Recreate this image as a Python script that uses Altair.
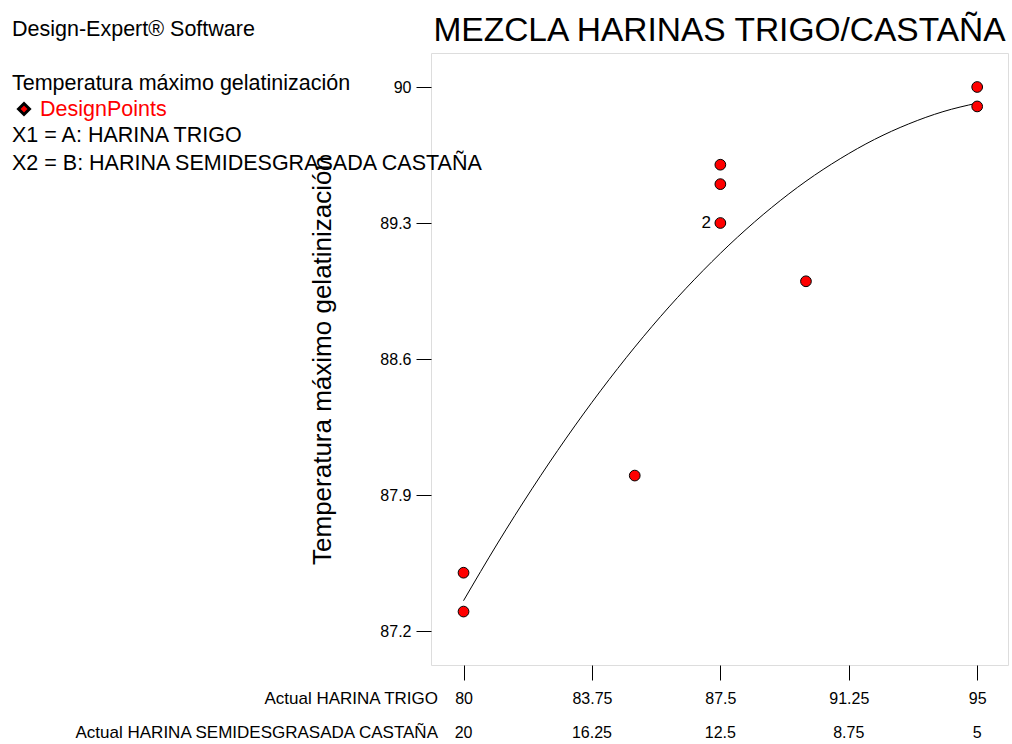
import altair as alt
import pandas as pd

# Design points
trigo_pts = [80, 80, 85, 87.5, 87.5, 87.5, 90, 95, 95]
temp_pts = [87.3, 87.5, 88.0, 89.3, 89.5, 89.6, 89.0, 89.9, 90.0]

# Fitted model curve
curve_x = [80, 81, 82, 83, 84, 85, 86, 87, 88, 89, 90, 91, 92, 93, 94, 95]
curve_y = [87.356, 87.653, 87.932, 88.193, 88.436, 88.661, 88.868, 89.056,
           89.227, 89.380, 89.515, 89.631, 89.730, 89.810, 89.873, 89.917]

# Axis ticks
x_ticks = [80, 83.75, 87.5, 91.25, 95]
x2_labels = ["20", "16.25", "12.5", "8.75", "5"]
y_ticks = [87.2, 87.9, 88.6, 89.3, 90]

FONT = "Liberation Sans"
W, H = 577, 612

pts = pd.DataFrame({"trigo": trigo_pts, "temp": temp_pts})
curve = pd.DataFrame({"trigo": curve_x, "temp": curve_y})
x2df = pd.DataFrame({"trigo": x_ticks, "lab": x2_labels})
rep = pd.DataFrame({"trigo": [87.5], "temp": [89.3], "lab": ["2"]})

xs = alt.Scale(domain=[79.05, 95.9], nice=False, zero=False)
ys = alt.Scale(domain=[87.025, 90.175], nice=False, zero=False)

xaxis = alt.Axis(values=x_ticks, labelExpr="'' + datum.value", tickSize=15,
                 tickColor="#000", labelFontSize=16, labelPadding=10,
                 labelColor="#000", domain=False, grid=False, title=None,
                 labelFont=FONT)
yaxis = alt.Axis(values=y_ticks, labelExpr="'' + datum.value", tickSize=15,
                 tickColor="#000", labelFontSize=16, labelPadding=5,
                 labelColor="#000", domain=False, grid=False,
                 title="Temperatura máximo gelatinización", titleFontSize=26,
                 titleFontWeight="normal", titleFont=FONT, titleColor="#000",
                 titleX=-109, titleY=307, titleAngle=270,
                 titleAlign="center", titleBaseline="middle", labelFont=FONT)

line = alt.Chart(curve).mark_line(color="#000", strokeWidth=1, interpolate="monotone").encode(
    x=alt.X("trigo:Q", scale=xs, axis=xaxis),
    y=alt.Y("temp:Q", scale=ys, axis=yaxis),
)

points = alt.Chart(pts).mark_point(filled=True, shape="circle", size=115,
                                   fill="#ff0000", stroke="#000", strokeWidth=1,
                                   opacity=1).encode(
    x=alt.X("trigo:Q", scale=xs),
    y=alt.Y("temp:Q", scale=ys),
)

replab = alt.Chart(rep).mark_text(fontSize=17, font=FONT, color="#000", dx=-14,
                                  align="center", baseline="middle").encode(
    x=alt.X("trigo:Q", scale=xs), y=alt.Y("temp:Q", scale=ys), text="lab:N")

x2 = alt.Chart(x2df).mark_text(fontSize=16, font=FONT, color="#000",
                               align="center", baseline="middle").encode(
    x=alt.X("trigo:Q", scale=xs), y=alt.value(680), text="lab:N")


def label(txt, x, y, size=21.5, color="#000", align="left", baseline="middle"):
    return alt.Chart(pd.DataFrame({"t": [txt]})).mark_text(
        fontSize=size, font=FONT, color=color, align=align, baseline=baseline,
    ).encode(x=alt.value(x), y=alt.value(y), text="t:N")


title = label("MEZCLA HARINAS TRIGO/CASTAÑA", W / 2, -12, size=33.5,
              align="center", baseline="alphabetic")
l1 = label("Design-Expert® Software", -419, -23)
l2 = label("Temperatura máximo gelatinización", -419, 31)
l3 = label("DesignPoints", -391, 57, color="#ff0000")
l4 = label("X1 = A: HARINA TRIGO", -419, 83)
l5 = label("X2 = B: HARINA SEMIDESGRASADA CASTAÑA", -419, 111)
r1 = label("Actual HARINA TRIGO", 7, 646, size=17, align="right")
r2 = label("Actual HARINA SEMIDESGRASADA CASTAÑA", 7, 680, size=17, align="right")

diamond = alt.Chart(pd.DataFrame({"t": ["DesignPoints"]})).mark_point(
    filled=True, shape="diamond", size=120, fill="#ff0000", stroke="#000",
    strokeWidth=3, opacity=1).encode(x=alt.value(-407), y=alt.value(56))

chart = alt.layer(line, points, replab, x2, title, l1, l2, l3, l4, l5, r1, r2,
                  diamond).properties(
    width=W, height=H,
    autosize=alt.AutoSizeParams(type="none"),
    padding={"left": 431, "top": 53, "right": 4, "bottom": 79},
).configure_view(stroke="#000", strokeWidth=1.2).configure(background="#fff")

chart.save("out.html", embed_options={"renderer": "svg", "actions": False})
